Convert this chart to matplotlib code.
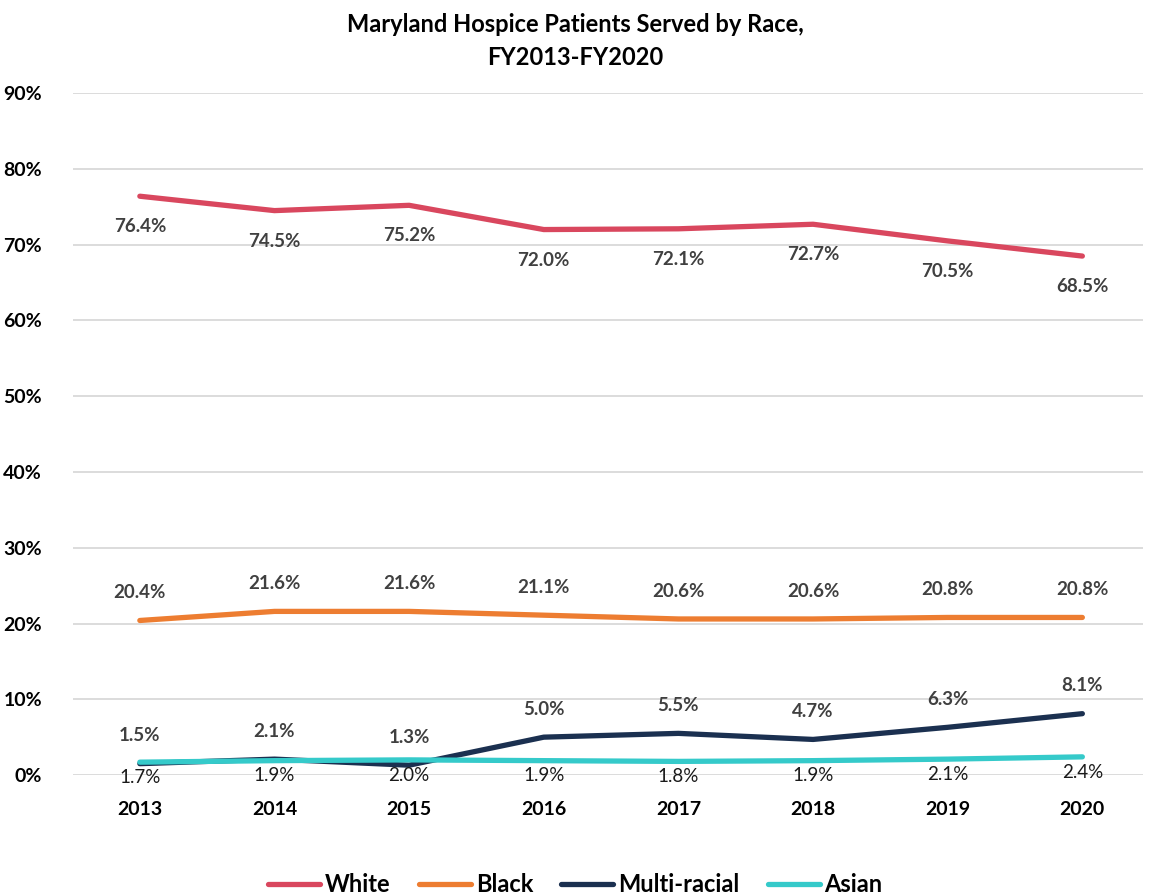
import numpy as np
import matplotlib.pyplot as plt
from matplotlib.ticker import PercentFormatter

plt.rcParams['font.family'] = ['Lato', 'DejaVu Sans']

# Data
years = ['2013', '2014', '2015', '2016', '2017', '2018', '2019', '2020']
white = [76.4, 74.5, 75.2, 72.0, 72.1, 72.7, 70.5, 68.5]
black = [20.4, 21.6, 21.6, 21.1, 20.6, 20.6, 20.8, 20.8]
multi = [1.5, 2.1, 1.3, 5.0, 5.5, 4.7, 6.3, 8.1]
asian = [1.7, 1.9, 2.0, 1.9, 1.8, 1.9, 2.1, 2.4]

fig = plt.figure(figsize=(11.51, 8.96), dpi=100)
ax = fig.add_axes([0.063, 0.135, 0.93, 0.761])
x = np.arange(len(years))

series = [('White', white, '#D9475E', -22, 'bold', '#404040'),
          ('Black', black, '#ED7D31', 20, 'bold', '#404040'),
          ('Multi-racial', multi, '#1B3050', 20, 'bold', '#404040'),
          ('Asian', asian, '#35CACA', -11, 'normal', '#1a1a1a')]

for name, vals, col, off, wt, tc in series:
    ax.plot(x, vals, color=col, lw=3.8, label=name, solid_capstyle='round')
    for xi, v in zip(x, vals):
        ax.annotate(f'{v:.1f}%', (xi, v), xytext=(0, off), textcoords='offset points',
                    ha='center', va='center', fontsize=13.5, fontweight=wt, color=tc)

ax.set_ylim(0, 90)
ax.set_xlim(-0.5, 7.45)
ax.set_yticks(np.arange(0, 91, 10))
ax.yaxis.set_major_formatter(PercentFormatter(decimals=0))
ax.set_xticks(x)
ax.set_xticklabels(years)
ax.grid(axis='y', color='#D9D9D9', lw=1.3)
ax.set_axisbelow(True)
for s in ax.spines.values():
    s.set_visible(False)
ax.tick_params(length=0, labelsize=14)
for lab in ax.get_xticklabels() + ax.get_yticklabels():
    lab.set_fontweight('bold')
ax.tick_params(axis='x', pad=19)
ax.tick_params(axis='y', pad=22)

fig.suptitle('Maryland Hospice Patients Served by Race,\nFY2013-FY2020', y=0.985,
             fontsize=17, fontweight='bold', linespacing=1.5)

leg = fig.legend(loc='center', bbox_to_anchor=(0.5, 0.013), ncol=4, frameon=False,
                 prop={'size': 17, 'weight': 'bold'}, handlelength=2.2, handletextpad=0.2,
                 columnspacing=1.2)

fig.savefig('out.png', dpi=100)
